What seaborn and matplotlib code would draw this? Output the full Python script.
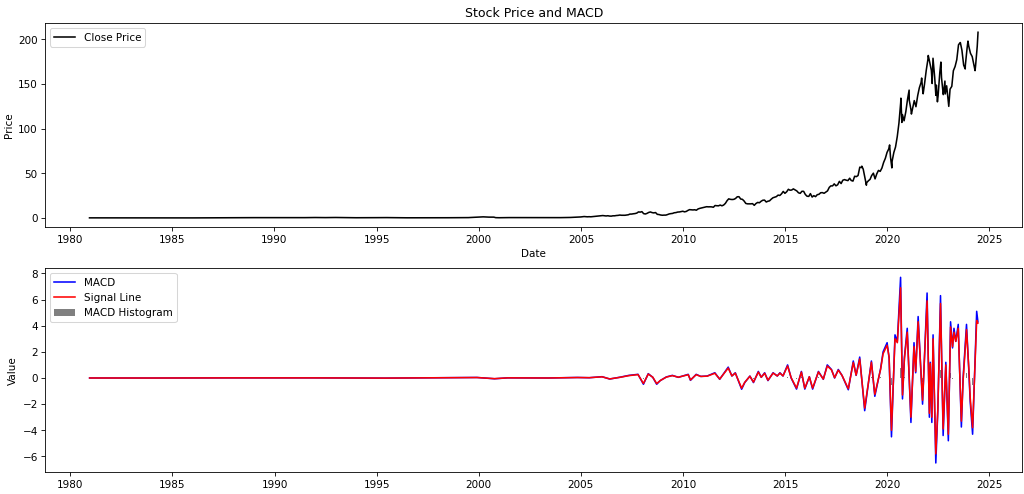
import pandas as pd
import matplotlib
matplotlib.use('Agg')
import matplotlib.pyplot as plt
import seaborn as sns

# --- close price: sparse points before 2005 ---
early_dates = [
    '1980-12-12', '1981-06-30', '1981-12-31', '1982-06-30', '1982-12-31', '1983-06-30', '1983-12-31',
    '1984-06-30', '1984-12-31', '1985-06-30', '1985-12-31', '1986-06-30', '1986-12-31', '1987-06-30',
    '1987-12-31', '1988-06-30', '1988-12-31', '1989-06-30', '1989-12-31', '1990-06-30', '1990-12-31',
    '1991-06-30', '1991-12-31', '1992-06-30', '1992-12-31', '1993-06-30', '1993-12-31', '1994-06-30',
    '1994-12-31', '1995-06-30', '1995-12-31', '1996-06-30', '1996-12-31', '1997-06-30', '1997-12-31',
    '1998-06-30', '1998-12-31', '1999-06-30', '1999-12-31', '2000-03-22', '2000-06-30', '2000-09-28',
    '2000-10-31', '2000-12-29', '2001-06-29', '2001-12-31', '2002-06-28', '2002-12-31', '2003-06-30',
    '2003-12-31', '2004-06-30', '2004-12-31',
]
early_prices = [
    0.128, 0.11, 0.077, 0.06, 0.12, 0.16, 0.09,
    0.11, 0.10, 0.07, 0.08, 0.14, 0.14, 0.29,
    0.30, 0.36, 0.37, 0.35, 0.32, 0.36, 0.39,
    0.37, 0.51, 0.41, 0.54, 0.36, 0.26, 0.26,
    0.35, 0.42, 0.29, 0.19, 0.18, 0.13, 0.12,
    0.26, 0.37, 0.41, 0.92, 1.25, 0.94, 0.92,
    0.35, 0.27, 0.42, 0.39, 0.32, 0.26, 0.34,
    0.38, 0.58, 1.15,
]

# --- close price: one value per month, 2005-01 .. 2024-05 ---
monthly_years = list(range(2005, 2025))
monthly_prices = [
    1.37, 1.60, 1.49, 1.29, 1.42, 1.31, 1.52, 1.67, 1.91, 2.05, 2.43, 2.57,
    2.70, 2.43, 2.24, 2.50, 2.13, 2.04, 2.42, 2.42, 2.75, 2.89, 3.27, 3.03,
    3.07, 3.02, 3.32, 3.56, 4.35, 4.36, 4.71, 4.94, 5.48, 6.78, 6.53, 7.07,
    4.84, 4.46, 5.12, 6.20, 6.72, 5.98, 5.67, 6.08, 4.06, 3.84, 3.30, 3.05,
    3.20, 3.20, 3.75, 4.50, 4.86, 5.09, 5.83, 6.02, 6.62, 6.73, 7.13, 7.53,
    6.86, 7.31, 8.39, 9.32, 9.19, 8.98, 9.19, 8.68, 10.13, 10.75, 11.20, 11.52,
    12.12, 12.61, 12.45, 12.50, 12.42, 11.99, 13.95, 13.71, 13.62, 14.45, 13.62, 14.46,
    16.30, 19.37, 21.41, 20.86, 20.64, 20.86, 21.81, 23.72, 23.82, 21.24, 20.87, 19.01,
    16.27, 15.81, 15.81, 15.81, 16.06, 14.16, 16.16, 17.40, 17.03, 18.69, 19.86, 20.04,
    17.88, 18.77, 19.17, 21.07, 22.61, 23.23, 23.90, 25.61, 25.19, 27.00, 29.73, 27.59,
    29.29, 32.12, 31.11, 31.29, 32.57, 31.36, 30.33, 28.19, 27.58, 29.88, 29.83, 26.32,
    24.34, 24.17, 27.25, 23.43, 24.97, 23.90, 26.05, 26.52, 28.26, 28.39, 27.63, 28.96,
    30.34, 34.25, 35.92, 35.91, 38.19, 36.01, 37.18, 41.00, 38.53, 42.26, 42.96, 42.31,
    41.86, 44.53, 41.95, 41.31, 46.72, 46.28, 47.57, 56.91, 56.44, 54.72, 44.65, 39.44,
    41.61, 43.29, 47.49, 50.17, 43.77, 49.48, 53.26, 52.19, 55.99, 62.19, 66.81, 73.41,
    77.38, 68.34, 63.57, 73.45, 79.49, 91.20, 106.26, 129.04, 115.81, 108.86, 119.05, 132.69,
    131.96, 121.26, 122.15, 131.46, 124.61, 136.96, 145.86, 151.83, 141.50, 149.80, 165.30, 177.57,
    174.78, 165.12, 174.61, 157.65, 148.84, 136.72, 162.51, 157.22, 138.20, 153.34, 148.03, 129.93,
    144.29, 147.41, 164.90, 169.68, 177.25, 193.97, 196.45, 187.87, 171.21, 170.77, 189.95, 192.53,
    184.40, 180.75, 171.48, 170.33, 192.25,
]

# --- close price: intra-month highs / lows ---
swing_dates = [
    '2018-10-03', '2018-12-24', '2020-02-12', '2020-03-23', '2020-09-01', '2020-09-18',
    '2021-01-26', '2021-03-08', '2021-09-07', '2021-10-04', '2022-01-03', '2022-03-14',
    '2022-03-29', '2022-05-19', '2022-06-16', '2022-08-17', '2022-09-30', '2022-11-03',
    '2023-01-05', '2023-07-31', '2023-10-26', '2023-12-14', '2024-04-19', '2024-06-11',
]
swing_prices = [
    58.0, 36.7, 81.8, 56.1, 134.2, 107.0,
    143.2, 116.4, 156.7, 139.1, 182.0, 150.6,
    178.9, 137.4, 130.1, 174.6, 138.2, 138.9,
    125.0, 196.4, 166.9, 198.1, 165.0, 208.0,
]

# --- MACD / signal line ---
macd_dates = [
    '1980-12-12', '1984-01-01', '1987-10-01', '1991-12-01', '1995-06-01', '1999-12-01', '2000-10-10',
    '2001-06-01', '2003-06-01', '2004-11-01', '2005-06-01', '2006-01-15', '2006-06-01', '2006-12-01',
    '2007-05-10', '2007-10-20', '2008-01-25', '2008-04-20', '2008-07-10', '2008-09-18', '2008-11-20',
    '2009-03-10', '2009-06-25', '2009-10-10', '2010-04-05', '2010-05-15', '2010-08-25', '2010-11-15',
    '2011-03-10', '2011-07-25', '2011-10-20', '2012-03-20', '2012-05-25', '2012-07-25', '2012-11-15',
    '2013-01-10', '2013-04-12', '2013-06-15', '2013-09-10', '2013-11-01', '2014-01-01', '2014-03-01',
    '2014-06-01', '2014-08-15', '2014-10-01', '2014-11-25', '2015-02-15', '2015-04-20', '2015-07-25',
    '2015-10-20', '2015-12-20', '2016-03-10', '2016-05-08', '2016-08-20', '2016-11-15', '2017-01-25',
    '2017-04-10', '2017-06-05', '2017-08-10', '2017-10-15', '2018-02-05', '2018-05-05', '2018-06-25',
    '2018-08-28', '2018-11-25', '2019-03-25', '2019-05-25', '2019-09-05', '2019-10-20', '2019-12-31',
    '2020-02-05', '2020-03-18', '2020-05-20', '2020-07-01', '2020-08-28', '2020-10-01', '2020-11-05',
    '2020-12-25', '2021-03-01', '2021-04-25', '2021-05-25', '2021-07-08', '2021-09-25', '2021-12-15',
    '2022-01-25', '2022-02-10', '2022-03-10', '2022-04-01', '2022-05-20', '2022-06-25', '2022-08-12',
    '2022-09-28', '2022-11-15', '2022-12-30', '2023-02-08', '2023-03-15', '2023-04-10', '2023-05-12',
    '2023-06-25', '2023-08-20', '2023-09-20', '2023-11-20', '2024-01-01', '2024-01-25', '2024-03-08',
    '2024-05-20', '2024-06-11',
]
macd_values = [
    0.0, -0.003, 0.01, 0.01, -0.01, 0.04, -0.06,
    0.01, 0.0, 0.04, 0.02, 0.1, -0.08, 0.06,
    0.2, 0.28, -0.48, 0.33, 0.05, -0.48, -0.2,
    0.08, 0.2, 0.05, 0.28, -0.18, 0.28, 0.12,
    0.15, 0.4, -0.1, 0.83, 0.15, 0.4, -0.86,
    -0.35, 0.15, -0.35, 0.5, 0.05, 0.4, -0.2,
    0.4, 0.15, 0.4, 0.15, 1.0, 0.0, -0.85,
    0.5, -0.85, 0.1, -0.85, 0.5, -0.1, 1.0,
    0.65, 0.0, 0.65, 0.2, -0.9, 1.3, 0.2,
    1.6, -2.5, 1.3, -1.4, 0.7, 2.0, 2.7,
    1.5, -4.5, 3.3, 2.8, 7.7, -1.6, 1.6,
    3.8, -3.4, 2.7, 0.4, 4.7, -2.0, 6.5,
    -3.0, 1.2, -3.4, 3.3, -6.5, -2.5, 6.3,
    -4.4, 1.2, -4.8, 4.3, 2.3, 3.8, 2.8,
    4.1, -3.75, 0.0, 4.1, 0.5, -1.8, -4.3,
    5.1, 4.3,
]
signal_values = [
    0.0, -0.002, 0.008, 0.008, -0.008, 0.035, -0.05,
    0.01, 0.0, 0.035, 0.025, 0.09, -0.07, 0.05,
    0.18, 0.26, -0.42, 0.3, 0.06, -0.43, -0.2,
    0.07, 0.18, 0.06, 0.25, -0.15, 0.25, 0.12,
    0.14, 0.36, -0.08, 0.76, 0.16, 0.37, -0.78,
    -0.33, 0.13, -0.31, 0.45, 0.06, 0.36, -0.17,
    0.37, 0.16, 0.37, 0.16, 0.92, 0.02, -0.77,
    0.45, -0.78, 0.09, -0.77, 0.46, -0.08, 0.92,
    0.62, 0.02, 0.6, 0.2, -0.82, 1.18, 0.22,
    1.45, -2.3, 1.2, -1.25, 0.65, 1.85, 2.5,
    1.6, -4.0, 3.0, 2.7, 6.9, -1.3, 1.5,
    3.5, -3.0, 2.4, 0.5, 4.3, -1.7, 5.9,
    -2.7, 1.1, -3.0, 3.0, -5.8, -2.4, 5.7,
    -3.9, 1.0, -4.3, 3.9, 2.4, 3.5, 2.8,
    3.8, -3.3, -0.2, 3.7, 0.7, -1.5, -3.8,
    4.4, 4.2,
]

# assemble price frame
month_dates = [f"{y}-{m:02d}-28" for y in monthly_years for m in range(1, 13)][:len(monthly_prices)]
price_df = pd.DataFrame({
    'Date': pd.to_datetime(early_dates + month_dates + swing_dates),
    'Close': early_prices + monthly_prices + swing_prices,
}).sort_values('Date')

macd_df = pd.DataFrame({
    'Date': pd.to_datetime(macd_dates),
    'MACD': macd_values,
    'Signal': signal_values,
})
macd_df['Hist'] = macd_df['MACD'] - macd_df['Signal']

fig, (ax1, ax2) = plt.subplots(2, 1, figsize=(13.66, 6.59), dpi=75)

# Price panel
sns.lineplot(data=price_df, x='Date', y='Close', ax=ax1, color='black', linewidth=1.5, label='Close Price')
ax1.set_title('Stock Price and MACD')
ax1.set_xlabel('Date')
ax1.set_ylabel('Price')
ax1.legend(loc='upper left')

# MACD panel
sns.lineplot(data=macd_df, x='Date', y='MACD', ax=ax2, color='blue', linewidth=1.5, label='MACD')
sns.lineplot(data=macd_df, x='Date', y='Signal', ax=ax2, color='red', linewidth=1.5, label='Signal Line')
ax2.bar(macd_df['Date'], macd_df['Hist'], width=4, color='gray', label='MACD Histogram')
ax2.set_xlabel('')
ax2.set_ylabel('Value')
ax2.legend(loc='upper left')

fig.subplots_adjust(left=0.044, right=0.998, top=0.953, bottom=0.044, hspace=0.2)
plt.savefig('out.png', dpi=75)
plt.close()
